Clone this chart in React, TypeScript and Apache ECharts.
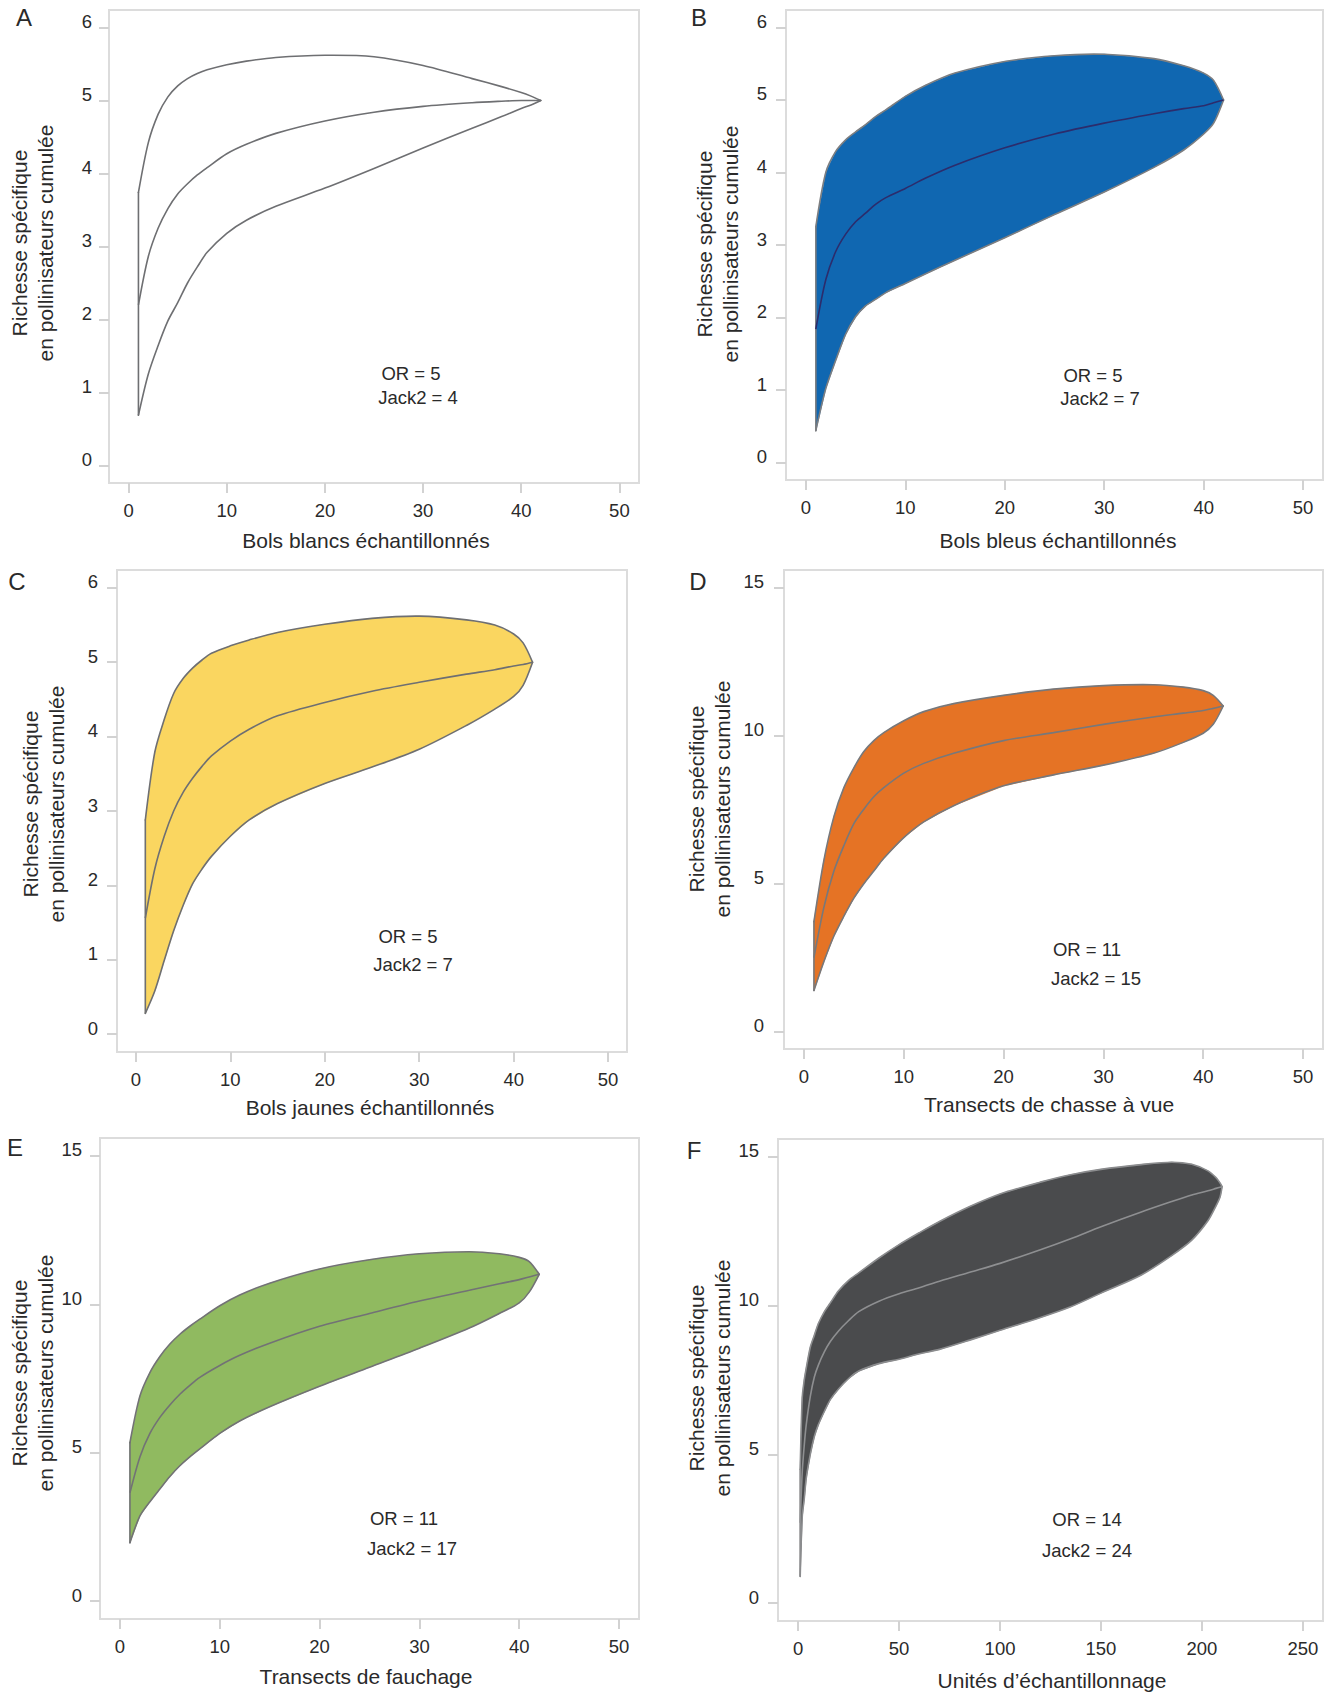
import React, { useEffect, useRef } from "react";
import * as echarts from "echarts";

// ---------- data ----------
const xBowls = [1, 2, 3, 4, 5, 6, 7, 8, 10, 12, 15, 20, 25, 30, 35, 38, 40, 41, 42];

const aUpper = [3.74, 4.42, 4.81, 5.05, 5.2, 5.3, 5.37, 5.42, 5.49, 5.54, 5.59, 5.62, 5.6, 5.48, 5.3, 5.19, 5.11, 5.06, 5.0];
const aMean = [2.2, 2.86, 3.25, 3.52, 3.72, 3.86, 3.98, 4.08, 4.27, 4.4, 4.55, 4.72, 4.84, 4.92, 4.97, 4.99, 5.0, 5.0, 5.0];
const aLower = [0.69, 1.25, 1.64, 1.98, 2.23, 2.5, 2.72, 2.92, 3.18, 3.36, 3.55, 3.8, 4.07, 4.35, 4.62, 4.78, 4.89, 4.94, 5.0];

const bUpper = [3.25, 4.0, 4.29, 4.45, 4.56, 4.66, 4.77, 4.86, 5.05, 5.2, 5.37, 5.53, 5.61, 5.63, 5.57, 5.47, 5.37, 5.27, 5.0];
const bMean = [1.84, 2.52, 2.91, 3.15, 3.32, 3.44, 3.56, 3.65, 3.78, 3.92, 4.1, 4.34, 4.53, 4.68, 4.81, 4.88, 4.92, 4.96, 5.0];
const bLower = [0.44, 1.02, 1.41, 1.77, 2.01, 2.16, 2.25, 2.34, 2.47, 2.6, 2.79, 3.1, 3.42, 3.73, 4.07, 4.31, 4.53, 4.68, 5.0];

const cUpper = [2.88, 3.79, 4.23, 4.58, 4.78, 4.92, 5.03, 5.12, 5.22, 5.3, 5.4, 5.51, 5.59, 5.62, 5.57, 5.5, 5.38, 5.26, 5.0];
const cMean = [1.56, 2.22, 2.66, 3.0, 3.25, 3.44, 3.6, 3.74, 3.94, 4.1, 4.28, 4.46, 4.61, 4.73, 4.84, 4.9, 4.95, 4.97, 5.0];
const cLower = [0.28, 0.58, 0.99, 1.39, 1.73, 2.02, 2.22, 2.39, 2.66, 2.88, 3.1, 3.37, 3.59, 3.83, 4.15, 4.37, 4.54, 4.69, 5.0];

const dUpper = [3.71, 5.79, 7.26, 8.24, 8.91, 9.46, 9.83, 10.1, 10.5, 10.81, 11.08, 11.36, 11.57, 11.69, 11.72, 11.64, 11.52, 11.36, 11.0];
const dMean = [2.49, 4.2, 5.42, 6.28, 7.02, 7.51, 7.93, 8.24, 8.73, 9.06, 9.4, 9.83, 10.1, 10.38, 10.63, 10.76, 10.85, 10.92, 11.0];
const dLower = [1.38, 2.36, 3.22, 3.89, 4.5, 4.99, 5.42, 5.85, 6.55, 7.08, 7.63, 8.3, 8.67, 9.0, 9.4, 9.77, 10.08, 10.38, 11.0];

const eUpper = [5.34, 6.91, 7.7, 8.24, 8.66, 8.99, 9.26, 9.5, 9.95, 10.31, 10.71, 11.19, 11.5, 11.7, 11.77, 11.7, 11.58, 11.44, 11.01];
const eMean = [3.65, 4.86, 5.65, 6.19, 6.61, 6.97, 7.27, 7.54, 7.94, 8.28, 8.69, 9.26, 9.69, 10.11, 10.47, 10.69, 10.83, 10.92, 11.01];
const eLower = [1.97, 2.87, 3.35, 3.78, 4.2, 4.56, 4.86, 5.13, 5.65, 6.07, 6.55, 7.24, 7.88, 8.52, 9.2, 9.69, 10.05, 10.41, 11.01];

const xUnits = [1, 2, 3, 4, 6, 8, 10, 13, 16, 20, 25, 30, 40, 50, 60, 70, 85, 100, 120, 135, 150, 170, 185, 195, 203, 207, 209, 210];
const fUpper = [4.5, 6.9, 7.5, 7.9, 8.6, 9.0, 9.4, 9.8, 10.1, 10.5, 10.85, 11.1, 11.6, 12.05, 12.45, 12.83, 13.33, 13.75, 14.15, 14.4, 14.58, 14.74, 14.82, 14.75, 14.53, 14.3, 14.12, 14.0];
const fMean = [2.7, 4.4, 5.3, 6.0, 6.95, 7.6, 8.0, 8.45, 8.8, 9.15, 9.5, 9.8, 10.15, 10.4, 10.6, 10.82, 11.12, 11.42, 11.88, 12.25, 12.65, 13.15, 13.5, 13.72, 13.86, 13.94, 13.98, 14.0];
const fLower = [0.9, 2.9, 3.5, 4.2, 5.0, 5.6, 6.0, 6.45, 6.85, 7.2, 7.55, 7.8, 8.05, 8.2, 8.38, 8.53, 8.84, 9.17, 9.6, 9.96, 10.42, 11.03, 11.68, 12.2, 12.85, 13.35, 13.65, 14.0];

const xTicks50 = [0, 10, 20, 30, 40, 50];
const xTicks250 = [0, 50, 100, 150, 200, 250];
const yTicks6 = [0, 1, 2, 3, 4, 5, 6];
const yTicks15 = [0, 5, 10, 15];

const panelLetters = ["A", "B", "C", "D", "E", "F"];
const xTitles = [
  "Bols blancs échantillonnés",
  "Bols bleus échantillonnés",
  "Bols jaunes échantillonnés",
  "Transects de chasse à vue",
  "Transects de fauchage",
  "Unités d\u2019échantillonnage",
];
const yTitle = "Richesse spécifique\nen pollinisateurs cumulée";
const orLabels = ["OR = 5", "OR = 5", "OR = 5", "OR = 11", "OR = 11", "OR = 14"];
const jackLabels = ["Jack2 = 4", "Jack2 = 7", "Jack2 = 7", "Jack2 = 15", "Jack2 = 17", "Jack2 = 24"];

// ---------- layout & style ----------
const FONT = "'Liberation Sans', Arial, Helvetica, sans-serif";
const TEXT = "#2a2a2a";
const BOX = "#dcdcdc";
const TICK = "#d2d2d2";
const SMOOTH = 0.3;

type Panel = {
  xs: number[]; upper: number[]; mean: number[]; lower: number[];
  xTicks: number[]; yTicks: number[];
  xMin: number; xMax: number; yMin: number; yMax: number;
  fill: string; edge: string; meanColor: string;
  box: [number, number, number, number]; // left, top, right, bottom
  yLabelMargin: number;
  letter: [number, number]; xTitle: [number, number]; yTitle: [number, number];
  orPos: [number, number]; jackPos: [number, number];
};

const panels: Panel[] = [
  { xs: xBowls, upper: aUpper, mean: aMean, lower: aLower, xTicks: xTicks50, yTicks: yTicks6,
    xMin: -2, xMax: 52, yMin: -0.24, yMax: 6.24, fill: "none", edge: "#6e6f72", meanColor: "#6e6f72",
    box: [109, 10, 639, 483], yLabelMargin: 17, letter: [24, 17], xTitle: [366, 540], yTitle: [32, 243],
    orPos: [411, 373], jackPos: [418, 397] },
  { xs: xBowls, upper: bUpper, mean: bMean, lower: bLower, xTicks: xTicks50, yTicks: yTicks6,
    xMin: -2, xMax: 52, yMin: -0.24, yMax: 6.24, fill: "#1067b1", edge: "#7d7e80", meanColor: "#2c2c6c",
    box: [786, 10, 1323, 480], yLabelMargin: 19, letter: [699, 17], xTitle: [1058, 540], yTitle: [717, 244],
    orPos: [1093, 375], jackPos: [1100, 398] },
  { xs: xBowls, upper: cUpper, mean: cMean, lower: cLower, xTicks: xTicks50, yTicks: yTicks6,
    xMin: -2, xMax: 52, yMin: -0.24, yMax: 6.24, fill: "#fad660", edge: "#6e6f72", meanColor: "#6e6f72",
    box: [117, 570, 627, 1052], yLabelMargin: 19, letter: [17, 581], xTitle: [370, 1107], yTitle: [43, 804],
    orPos: [408, 936], jackPos: [413, 964] },
  { xs: xBowls, upper: dUpper, mean: dMean, lower: dLower, xTicks: xTicks50, yTicks: yTicks15,
    xMin: -2, xMax: 52, yMin: -0.6, yMax: 15.6, fill: "#e57325", edge: "#77787b", meanColor: "#77787b",
    box: [784, 570, 1323, 1049], yLabelMargin: 20, letter: [698, 581], xTitle: [1049, 1104], yTitle: [709, 799],
    orPos: [1087, 949], jackPos: [1096, 978] },
  { xs: xBowls, upper: eUpper, mean: eMean, lower: eLower, xTicks: xTicks50, yTicks: yTicks15,
    xMin: -2, xMax: 52, yMin: -0.6, yMax: 15.6, fill: "#90ba60", edge: "#727275", meanColor: "#727275",
    box: [100, 1138, 639, 1619], yLabelMargin: 18, letter: [15, 1147], xTitle: [366, 1676], yTitle: [32, 1373],
    orPos: [404, 1518], jackPos: [412, 1548] },
  { xs: xUnits, upper: fUpper, mean: fMean, lower: fLower, xTicks: xTicks250, yTicks: yTicks15,
    xMin: -10, xMax: 260, yMin: -0.6, yMax: 15.6, fill: "#4a4b4d", edge: "#8b8c8e", meanColor: "#8e8f91",
    box: [778, 1139, 1323, 1621], yLabelMargin: 19, letter: [694, 1150], xTitle: [1052, 1680], yTitle: [709, 1378],
    orPos: [1087, 1519], jackPos: [1087, 1550] },
];

function buildOption() {
  const grid: any[] = [];
  const xAxis: any[] = [];
  const yAxis: any[] = [];
  const series: any[] = [];
  const graphic: any[] = [];

  panels.forEach((p, i) => {
    const [l, t, r, b] = p.box;
    grid.push({
      left: l, top: t, width: r - l, height: b - t,
      show: true, borderColor: BOX, borderWidth: 2, backgroundColor: "transparent",
    });
    xAxis.push({
      type: "value", gridIndex: i, min: p.xMin, max: p.xMax, position: "bottom",
      axisLine: { show: false, onZero: false },
      axisTick: { show: true, length: 10, inside: false, customValues: p.xTicks, lineStyle: { color: TICK, width: 2 } },
      axisLabel: { show: true, customValues: p.xTicks, margin: 17, fontSize: 18.5, lineHeight: 20,
        fontFamily: FONT, color: TEXT },
      splitLine: { show: false },
    });
    yAxis.push({
      type: "value", gridIndex: i, min: p.yMin, max: p.yMax, position: "left",
      axisLine: { show: false, onZero: false },
      axisTick: { show: true, length: 10, inside: false, customValues: p.yTicks, lineStyle: { color: TICK, width: 2 } },
      axisLabel: { show: true, customValues: p.yTicks, margin: p.yLabelMargin, fontSize: 18.5, lineHeight: 12,
        verticalAlign: "bottom", fontFamily: FONT, color: TEXT },
      splitLine: { show: false },
    });

    const xs = p.xs, up = p.upper, lo = p.lower;
    series.push({
      type: "custom",
      xAxisIndex: i, yAxisIndex: i,
      coordinateSystem: "cartesian2d",
      silent: true,
      data: [[xs[0], lo[0]]],
      renderItem: (_params: any, api: any) => {
        const upPts: number[][] = xs.map((x, k) => api.coord([x, up[k]]));
        const loPts: number[][] = xs.map((x, k) => api.coord([x, lo[k]]));
        const ring = upPts.concat(loPts.slice().reverse());
        const edgeStyle = { fill: "none", stroke: p.edge, lineWidth: 1.6, lineJoin: "round", lineCap: "round" };
        return {
          type: "group",
          children: [
            { type: "polygon", shape: { points: ring }, style: { fill: p.fill, stroke: p.fill === "none" ? "none" : p.fill, lineWidth: 0.6 } },
            { type: "polyline", shape: { points: upPts, smooth: SMOOTH }, style: edgeStyle },
            { type: "polyline", shape: { points: loPts, smooth: SMOOTH }, style: edgeStyle },
            { type: "polyline", shape: { points: [loPts[0], upPts[0]] }, style: edgeStyle },
          ],
        };
      },
    });
    series.push({
      type: "line",
      xAxisIndex: i, yAxisIndex: i,
      silent: true,
      showSymbol: false,
      symbol: "none",
      smooth: SMOOTH,
      data: xs.map((x, k) => [x, p.mean[k]]),
      lineStyle: { color: p.meanColor, width: 1.6 },
      z: 3,
    });

    graphic.push({
      type: "text", x: p.letter[0], y: p.letter[1],
      style: { text: panelLetters[i], font: `24px ${FONT}`, fill: TEXT,
        textAlign: "center", textVerticalAlign: "middle", align: "center", verticalAlign: "middle" },
    });
    graphic.push({
      type: "text", x: p.xTitle[0], y: p.xTitle[1],
      style: { text: xTitles[i], font: `21px ${FONT}`, fill: TEXT,
        textAlign: "center", textVerticalAlign: "middle", align: "center", verticalAlign: "middle" },
    });
    graphic.push({
      type: "text", x: p.yTitle[0], y: p.yTitle[1], rotation: Math.PI / 2,
      style: { text: yTitle, font: `21px ${FONT}`, fill: TEXT, lineHeight: 26,
        textAlign: "center", textVerticalAlign: "middle", align: "center", verticalAlign: "middle" },
    });
    graphic.push({
      type: "text", x: p.orPos[0], y: p.orPos[1],
      style: { text: orLabels[i], font: `18.5px ${FONT}`, fill: TEXT,
        textAlign: "center", textVerticalAlign: "middle", align: "center", verticalAlign: "middle" },
    });
    graphic.push({
      type: "text", x: p.jackPos[0], y: p.jackPos[1],
      style: { text: jackLabels[i], font: `18.5px ${FONT}`, fill: TEXT,
        textAlign: "center", textVerticalAlign: "middle", align: "center", verticalAlign: "middle" },
    });
  });

  return {
    animation: false,
    backgroundColor: "#ffffff",
    grid, xAxis, yAxis, series, graphic,
  };
}

export default function App() {
  const ref = useRef<HTMLDivElement>(null);
  useEffect(() => {
    document.body.style.margin = "0";
    if (!ref.current) return;
    const chart = echarts.init(ref.current, undefined, { renderer: "svg" });
    chart.setOption(buildOption() as any);
    return () => chart.dispose();
  }, []);
  return <div ref={ref} style={{ width: 1333, height: 1693 }} />;
}
